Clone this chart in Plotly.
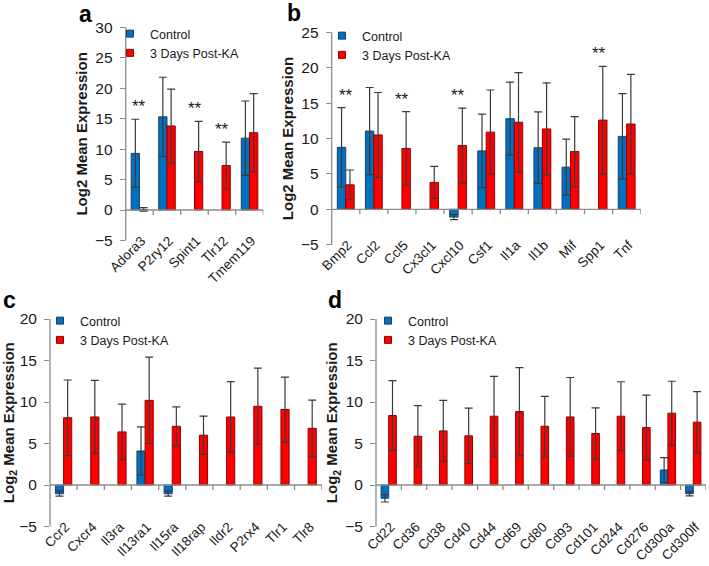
import plotly.graph_objects as go

# ---------------- data ----------------
cats_a = ["Adora3", "P2ry12", "Spint1", "Tlr12", "Tmem119"]
ctrl_a = [9.3, 15.3, None, None, 11.8]
ctrl_a_err = [5.6, 6.5, None, None, 6.1]
ka_a = [0.1, 13.8, 9.6, 7.3, 12.7]
ka_a_err = [0.3, 6.05, 4.95, 3.85, 6.4]
sig_a = ["Adora3", "Spint1", "Tlr12"]

cats_b = ["Bmp2", "Ccl2", "Ccl5", "Cx3cl1", "Cxcl10", "Csf1", "Il1a", "Il1b", "Mif", "Spp1", "Tnf"]
ctrl_b = [8.75, 11.05, None, None, -1.1, 8.25, 12.8, 8.7, 5.95, None, 10.3]
ctrl_b_err = [5.6, 6.15, None, None, 0.35, 5.2, 5.15, 5.05, 3.95, None, 6.05]
ka_b = [3.45, 10.5, 8.6, 3.8, 9.0, 10.9, 12.3, 11.35, 8.15, 12.6, 12.05]
ka_b_err = [2.1, 6.0, 5.2, 2.25, 5.3, 5.95, 7.0, 6.5, 4.95, 7.6, 7.0]
sig_b = ["Bmp2", "Ccl5", "Cxcl10", "Spp1"]

cats_c = ["Ccr2", "Cxcr4", "Il3ra", "Il13ra1", "Il15ra", "Il18rap", "Ildr2", "P2rx4", "Tlr1", "Tlr8"]
ctrl_c = [-1.05, None, None, 4.1, -1.05, None, None, None, None, None]
ctrl_c_err = [0.3, None, None, 2.9, 0.3, None, None, None, None, None]
ka_c = [8.1, 8.2, 6.4, 10.2, 7.07, 6.0, 8.2, 9.48, 9.1, 6.83]
ka_c_err = [4.55, 4.4, 3.35, 5.2, 2.35, 2.3, 4.25, 4.6, 3.9, 3.4]
sig_c = []

cats_d = ["Cd22", "Cd36", "Cd38", "Cd40", "Cd44", "Cd69", "Cd80", "Cd93", "Cd101",
          "Cd244", "Cd276", "Cd300a", "Cd300lf"]
ctrl_d = [-1.6, None, None, None, None, None, None, None, None, None, None, 1.81, -1.05]
ctrl_d_err = [0.45, None, None, None, None, None, None, None, None, None, None, 1.5, 0.25]
ka_d = [8.37, 5.87, 6.52, 5.92, 8.29, 8.85, 7.08, 8.2, 6.2, 8.29, 6.92, 8.65, 7.57]
ka_d_err = [4.2, 3.7, 3.68, 3.33, 4.8, 5.3, 3.6, 4.75, 3.1, 4.15, 3.9, 3.85, 3.67]
sig_d = []

series_names = ["Control", "3 Days Post-KA"]
panel_letters = ["a", "b", "c", "d"]
y_titles = ["<b>Log2 Mean Expression</b>", "<b>Log2 Mean Expression</b>",
            "<b>Log<sub>2</sub> Mean Expression</b>", "<b>Log<sub>2</sub> Mean Expression</b>"]
y_ranges = [(-5, 30), (-5, 25), (-5, 20), (-5, 20)]

# ---------------- style / layout ----------------
W, H = 709, 566
BLUE, BLUE_EDGE = "#0070C0", "#1F3F66"
RED, RED_EDGE = "#FF0000", "#8E0000"
ERR = "#3a3a3a"
AXC = "#8c8c8c"
FONT = "Liberation Sans, Arial, sans-serif"
TXT = "#1a1a1a"

# pixel boxes of plotting areas: (left, right, top, bottom)
boxes = [(125.7, 263.3, 27.3, 240.45),
         (331.7, 640.7, 32.3, 244.7),
         (50.0, 321.7, 319.0, 526.5),
         (376.0, 706.0, 319.0, 526.5)]
letter_pos = [(85, 14), (294, 13), (9, 300), (335, 300)]
legend_pos = [(110, 19), (322, 21), (40, 306), (368, 306)]

panels = [
    (cats_a, ctrl_a, ctrl_a_err, ka_a, ka_a_err, sig_a),
    (cats_b, ctrl_b, ctrl_b_err, ka_b, ka_b_err, sig_b),
    (cats_c, ctrl_c, ctrl_c_err, ka_c, ka_c_err, sig_c),
    (cats_d, ctrl_d, ctrl_d_err, ka_d, ka_d_err, sig_d),
]


def ax_id(letter, idx):
    return letter if idx == 1 else f"{letter}{idx}"


fig = go.Figure()
layout = {}
annotations = []
shapes = []
axis_line = dict(color=AXC, width=1.3)

for i, (cats, c_vals, c_err, k_vals, k_err, sig) in enumerate(panels):
    k = i + 1
    xa, ya = ax_id("x", k), ax_id("y", k)
    xkey, ykey = ("xaxis", "yaxis") if k == 1 else (f"xaxis{k}", f"yaxis{k}")
    lg = "legend" if k == 1 else f"legend{k}"
    L, R, T, B = boxes[i]
    xd = [L / W, R / W]
    yd = [1 - B / H, 1 - T / H]
    r0, r1 = y_ranges[i]
    n = len(cats)

    fig.add_trace(go.Bar(
        x=cats, y=c_vals, name=series_names[0], xaxis=xa, yaxis=ya,
        marker=dict(color=BLUE, line=dict(color=BLUE_EDGE, width=1)),
        error_y=dict(type="data", array=c_err, color=ERR, thickness=1.2, width=4),
        showlegend=False, offsetgroup="c"))
    fig.add_trace(go.Bar(
        x=cats, y=k_vals, name=series_names[1], xaxis=xa, yaxis=ya,
        marker=dict(color=RED, line=dict(color=RED_EDGE, width=1)),
        error_y=dict(type="data", array=k_err, color=ERR, thickness=1.2, width=4),
        showlegend=False, offsetgroup="k"))
    # legend entries (small squares)
    for name, col, edge, grp in [(series_names[0], BLUE, BLUE_EDGE, "c"),
                                 (series_names[1], RED, RED_EDGE, "k")]:
        fig.add_trace(go.Scatter(
            x=[None], y=[None], mode="markers", name=name, xaxis=xa, yaxis=ya,
            marker=dict(symbol="square", size=7, color=col, line=dict(color=edge, width=1)),
            legend=lg, legendgroup=f"{grp}{k}", showlegend=True, hoverinfo="skip"))

    layout[xkey] = dict(
        domain=xd, anchor="free", position=1 - (B - 11) / H, type="category",
        categoryorder="array", categoryarray=cats,
        range=[-0.5, n - 0.5], showline=False, ticks="", showgrid=False, zeroline=False,
        tickangle=-45, ticklabelshift=2,
        tickfont=dict(family=FONT, size=13.5, color=TXT), automargin=False)
    layout[ykey] = dict(
        domain=yd, anchor=xa, range=[r0, r1], dtick=5, tick0=0,
        showline=False, ticks="outside", ticklen=5,
        tickcolor=AXC, tickwidth=1.3, showgrid=False, zeroline=False,
        ticklabelstandoff=4,
        tickfont=dict(family=FONT, size=15.5, color=TXT), automargin=False,
        title=dict(text=y_titles[i], standoff=3, font=dict(family=FONT, size=15, color=TXT)))

    # axis lines: vertical axis, horizontal axis at y = 0, category boundary ticks
    shapes.append(dict(type="line", xref=f"{xa} domain", yref=f"{ya} domain",
                       x0=0, x1=0, y0=0, y1=1, line=axis_line, layer="above"))
    shapes.append(dict(type="line", xref=f"{xa} domain", yref=ya,
                       x0=0, x1=1, y0=0, y1=0, line=axis_line, layer="above"))
    for j in range(1, n + 1):
        shapes.append(dict(type="line", xref=xa, yref=ya, x0=j - 0.5, x1=j - 0.5,
                           ysizemode="pixel", yanchor=0, y0=0, y1=-5,
                           line=axis_line, layer="above"))

    lx, ly = legend_pos[i]
    layout[lg] = dict(
        x=lx / W, y=1 - ly / H, xanchor="left", yanchor="top", bgcolor="rgba(0,0,0,0)",
        font=dict(family=FONT, size=12.5, color=TXT), itemwidth=30,
        traceorder="grouped", tracegroupgap=0)

    # significance marks
    for cat in sig:
        j = cats.index(cat)
        tops = [v + e for v, e in ((c_vals[j], c_err[j]), (k_vals[j], k_err[j]))
                if v is not None]
        annotations.append(dict(
            x=cat, y=max(tops), xref=xa, yref=ya, text="**", showarrow=False,
            yanchor="bottom", yshift=1, font=dict(family=FONT, size=17, color=TXT)))

    px_, py_ = letter_pos[i]
    annotations.append(dict(
        x=px_ / W, y=1 - py_ / H, xref="paper", yref="paper", text=f"<b>{panel_letters[i]}</b>",
        showarrow=False, xanchor="center", yanchor="middle",
        font=dict(family=FONT, size=23, color="#000")))

fig.update_layout(
    width=W, height=H, margin=dict(l=0, r=0, t=0, b=0),
    paper_bgcolor="white", plot_bgcolor="rgba(0,0,0,0)",
    barmode="group", bargap=0.4, bargroupgap=0,
    template="none", annotations=annotations, shapes=shapes,
    font=dict(family=FONT, color=TXT), **layout)

fig.write_html("out.html", config={"displayModeBar": False},
               post_script="document.body.style.margin='0px';")
